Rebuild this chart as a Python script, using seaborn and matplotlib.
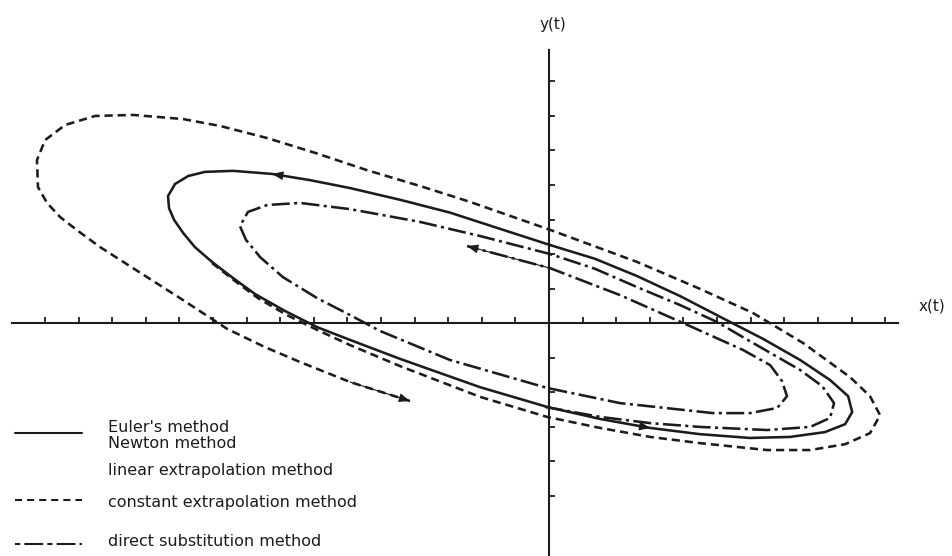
import matplotlib
matplotlib.use("Agg")
import matplotlib.pyplot as plt
import pandas as pd
import seaborn as sns

# ---- data (axis tick units) ----
euler_x = [0.03, -2.35, -2.95, -4.43, -5.92, -7.11, -8.24, -9.40, -10.24, -10.74,
           -11.13, -11.34, -11.31, -11.16, -10.89, -10.54, -10.03, -9.40, -8.75, -7.86,
           -6.90, -5.92, -4.43, -2.05, -0.06, 1.52, 3.01, 4.49, 5.98, 7.17,
           8.21, 8.81, 9.02, 8.90, 8.36, 7.47, 6.37, 5.33, 3.90, 2.62,
           1.37, 0.03]
euler_y = [2.26, 3.01, 3.20, 3.57, 3.91, 4.14, 4.32, 4.41, 4.38, 4.26,
           4.03, 3.68, 3.33, 2.99, 2.61, 2.20, 1.77, 1.30, 0.84, 0.35,
           -0.12, -0.49, -1.04, -1.86, -2.43, -2.78, -3.04, -3.22, -3.33, -3.30,
           -3.16, -2.93, -2.58, -2.12, -1.65, -1.07, -0.46, 0.06, 0.78, 1.36,
           1.86, 2.26]

const_x = [-10.03, -9.35, -8.66, -7.80, -6.90, -5.92, -4.43, -2.05, -0.06, 1.52,
           3.01, 4.49, 6.49, 7.77, 8.81, 9.55, 9.85, 9.55, 8.96, 7.56,
           6.07, 4.49, 2.62, 0.03, -2.35, -3.84, -5.42, -6.96, -8.39, -9.79,
           -10.89, -12.38, -13.51, -14.40, -15.00, -15.24, -15.21, -14.94, -14.55, -14.02,
           -13.36, -12.38, -10.98, -9.58, -8.45, -7.41, -5.92, -4.14]
const_y = [1.74, 1.22, 0.72, 0.23, -0.20, -0.64, -1.25, -2.14, -2.72, -3.04,
           -3.30, -3.48, -3.68, -3.68, -3.51, -3.19, -2.67, -2.12, -1.57, -0.58,
           0.29, 0.99, 1.77, 2.70, 3.51, 3.97, 4.43, 4.93, 5.36, 5.71,
           5.91, 6.03, 6.00, 5.74, 5.30, 4.72, 3.94, 3.48, 3.07, 2.67,
           2.20, 1.59, 0.72, -0.17, -0.70, -1.13, -1.71, -2.26]

direct_x = [-0.12, 1.52, 3.01, 4.49, 6.49, 7.77, 8.36, 8.48, 8.13, 7.47,
            5.77, 5.00, 3.90, 2.62, 1.37, 0.03, -2.05, -3.84, -5.92, -7.41,
            -8.39, -8.96, -9.20, -9.02, -8.60, -7.92, -6.90, -5.92, -5.03, -2.95,
            -0.06, 2.11, 4.88, 5.98, 6.79, 7.08, 6.93, 6.58, 5.77, 3.99,
            2.11, 0.03, -2.44]
direct_y = [-2.43, -2.72, -2.90, -3.01, -3.10, -3.01, -2.75, -2.32, -1.83, -1.36,
            -0.41, 0.03, 0.52, 1.04, 1.57, 2.00, 2.52, 2.93, 3.30, 3.48,
            3.42, 3.22, 2.81, 2.41, 1.91, 1.33, 0.72, 0.23, -0.23, -1.07,
            -1.88, -2.32, -2.61, -2.61, -2.46, -2.12, -1.68, -1.22, -0.78, 0.00,
            0.81, 1.59, 2.23]

x_ticks = [-15, -14, -13, -12, -11, -10, -9, -8, -7, -6, -5, -4, -3, -2, -1,
           1, 2, 3, 4, 5, 6, 7, 8, 9, 10]
y_ticks = [-5, -4, -3, -2, -1, 1, 2, 3, 4, 5, 6, 7]

legend_labels = ["Euler's method", "Newton method", "linear extrapolation method",
                 "constant extrapolation method", "direct substitution method"]
x_label = "x(t)"
y_label = "y(t)"

# ---- style ----
sns.set_theme(style="white")
plt.rcParams['font.family'] = ['DejaVu Sans']
ink = "#1c1c1c"

fig = plt.figure(figsize=(9.53, 5.56), dpi=100)
ax = fig.add_axes([0, 0, 1, 1])
ax.set_xlim(-16.34, 12.02)
ax.set_ylim(-6.75, 9.36)

lw = 1.85
dash_style = (0, (3.2, 1.9))
dashdot_style = (0, (7.0, 1.7, 1.2, 1.7))

sns.lineplot(x=euler_x, y=euler_y, sort=False, estimator=None, ax=ax,
             color=ink, lw=lw, linestyle='-')
sns.lineplot(x=const_x, y=const_y, sort=False, estimator=None, ax=ax,
             color=ink, lw=lw, linestyle=dash_style)
sns.lineplot(x=direct_x, y=direct_y, sort=False, estimator=None, ax=ax,
             color=ink, lw=lw, linestyle=dashdot_style)

# direction arrows (taken from consecutive points of the curves)
def arrow(xs, ys, i):
    ax.annotate("", xy=(xs[i], ys[i]), xytext=(xs[i - 1], ys[i - 1]),
                arrowprops=dict(arrowstyle='-|>,head_length=0.55,head_width=0.22',
                                color=ink, lw=0.8, shrinkA=0, shrinkB=0,
                                mutation_scale=12))

arrow(euler_x, euler_y, 6)
arrow(euler_x, euler_y, 26)
arrow(const_x, const_y, len(const_x) - 1)
arrow(direct_x, direct_y, len(direct_x) - 1)

# ---- axes through the origin ----
for s in ['top', 'right']:
    ax.spines[s].set_visible(False)
ax.spines['bottom'].set_position(('data', 0))
ax.spines['left'].set_position(('data', 0))
ax.spines['bottom'].set_bounds(-15.98, 10.39)
ax.spines['left'].set_bounds(-6.75, 7.91)
for s in ['bottom', 'left']:
    ax.spines[s].set_color(ink)
    ax.spines[s].set_linewidth(1.5)
ax.set_xticks(x_ticks)
ax.set_yticks(y_ticks)
ax.set_xticklabels([])
ax.set_yticklabels([])
ax.tick_params(axis='both', direction='in', length=4.5, width=1.3, colors=ink,
               bottom=True, left=True, top=False, right=False)
ax.set_xlabel("")
ax.set_ylabel("")
ax.grid(False)

ax.text(11.4, 0.49, x_label, fontsize=11, color=ink, ha='center', va='center')
ax.text(0.12, 8.64, y_label, fontsize=11, color=ink, ha='center', va='center')

# ---- legend (key block in the lower-left corner) ----
tx = 0.113
fs = 11.5
ax.text(tx, 1 - 427 / 556, legend_labels[0], transform=ax.transAxes, fontsize=fs,
        color=ink, va='center', ha='left')
ax.text(tx, 1 - 444 / 556, legend_labels[1], transform=ax.transAxes, fontsize=fs,
        color=ink, va='center', ha='left')
ax.text(tx, 1 - 470 / 556, legend_labels[2], transform=ax.transAxes, fontsize=fs,
        color=ink, va='center', ha='left')
ax.text(tx, 1 - 502 / 556, legend_labels[3], transform=ax.transAxes, fontsize=fs,
        color=ink, va='center', ha='left')
ax.text(tx, 1 - 541 / 556, legend_labels[4], transform=ax.transAxes, fontsize=fs,
        color=ink, va='center', ha='left')
kx = [15 / 953, 82 / 953]
ax.plot(kx, [1 - 433 / 556] * 2, transform=ax.transAxes, color=ink, lw=1.5, ls='-')
ax.plot(kx, [1 - 500 / 556] * 2, transform=ax.transAxes, color=ink, lw=1.5,
        ls=(0, (3.4, 2.4)))
ax.plot(kx, [1 - 544 / 556] * 2, transform=ax.transAxes, color=ink, lw=1.5,
        ls=(0, (2.5, 2.0, 9.0, 2.0)))

fig.savefig("out.png", dpi=100, facecolor="white")
